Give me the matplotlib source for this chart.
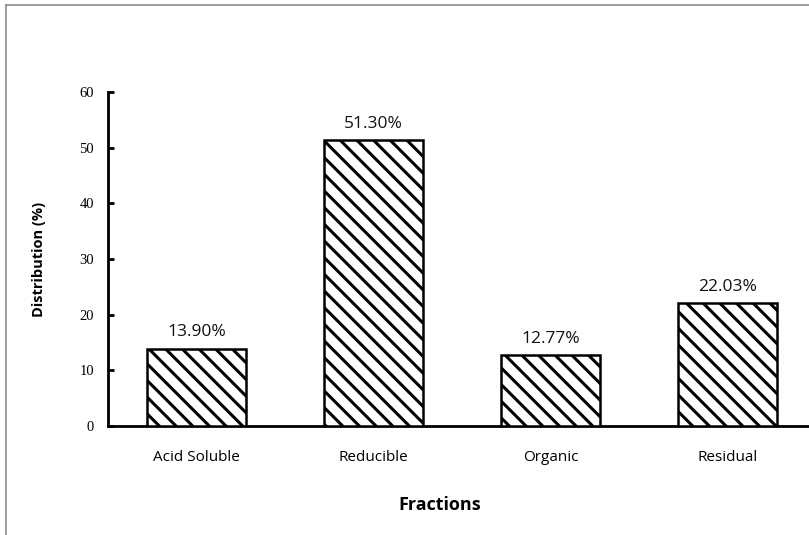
import matplotlib.pyplot as plt
from matplotlib.lines import Line2D

categories = ["Acid Soluble", "Reducible", "Organic", "Residual"]
values = [13.90, 51.30, 12.77, 22.03]
yticks = [0, 10, 20, 30, 40, 50, 60]

plt.rcParams['hatch.linewidth'] = 2.2
plt.rcParams['hatch.color'] = 'black'

fig = plt.figure(figsize=(8.09, 5.35), dpi=100)
fig.patch.set_facecolor('white')

# gray frame of the pasted chart (top and left edges visible)
fig.add_artist(Line2D([6/809, 6/809], [0, 1 - 5/535], transform=fig.transFigure,
                      color='#8c8c8c', lw=1.2))
fig.add_artist(Line2D([6/809, 1], [1 - 5/535, 1 - 5/535], transform=fig.transFigure,
                      color='#8c8c8c', lw=1.2))

ax = fig.add_axes([108/809, 1 - 426/535, (816 - 108)/809, (426 - 92)/535])
x = list(range(len(categories)))
ax.bar(x, values, width=0.56, color='white', edgecolor='black',
       linewidth=1.8, hatch='\\\\', zorder=3)

for xi, v in zip(x, values):
    ax.text(xi, v + 1.5, f"{v:.2f}%", ha='center', va='bottom',
            fontsize=12.5, family='Open Sans', color='#111111')

ax.set_xlim(-0.5, 3.5)
ax.set_ylim(0, 60)
ax.set_yticks(yticks)
ax.set_yticklabels([str(t) for t in yticks], family='Liberation Serif', fontsize=10.5)
ax.set_xticks(x)
ax.set_xticklabels(categories, family='Open Sans', fontsize=11)

ax.spines['top'].set_visible(False)
ax.spines['right'].set_visible(False)
ax.spines['left'].set_linewidth(2)
ax.spines['bottom'].set_linewidth(2)
ax.tick_params(axis='y', direction='in', length=4, width=2, pad=10)
ax.tick_params(axis='x', length=0, pad=17)

ax.set_ylabel("Distribution (%)", family='Open Sans', fontsize=10.5,
              fontweight='bold', labelpad=24)
ax.set_xlabel("Fractions", family='Open Sans', fontsize=13,
              fontweight='bold')
ax.xaxis.set_label_coords((440 - 108)/(816 - 108), -(496 - 426)/(426 - 92))

fig.savefig("out.png", dpi=100)
